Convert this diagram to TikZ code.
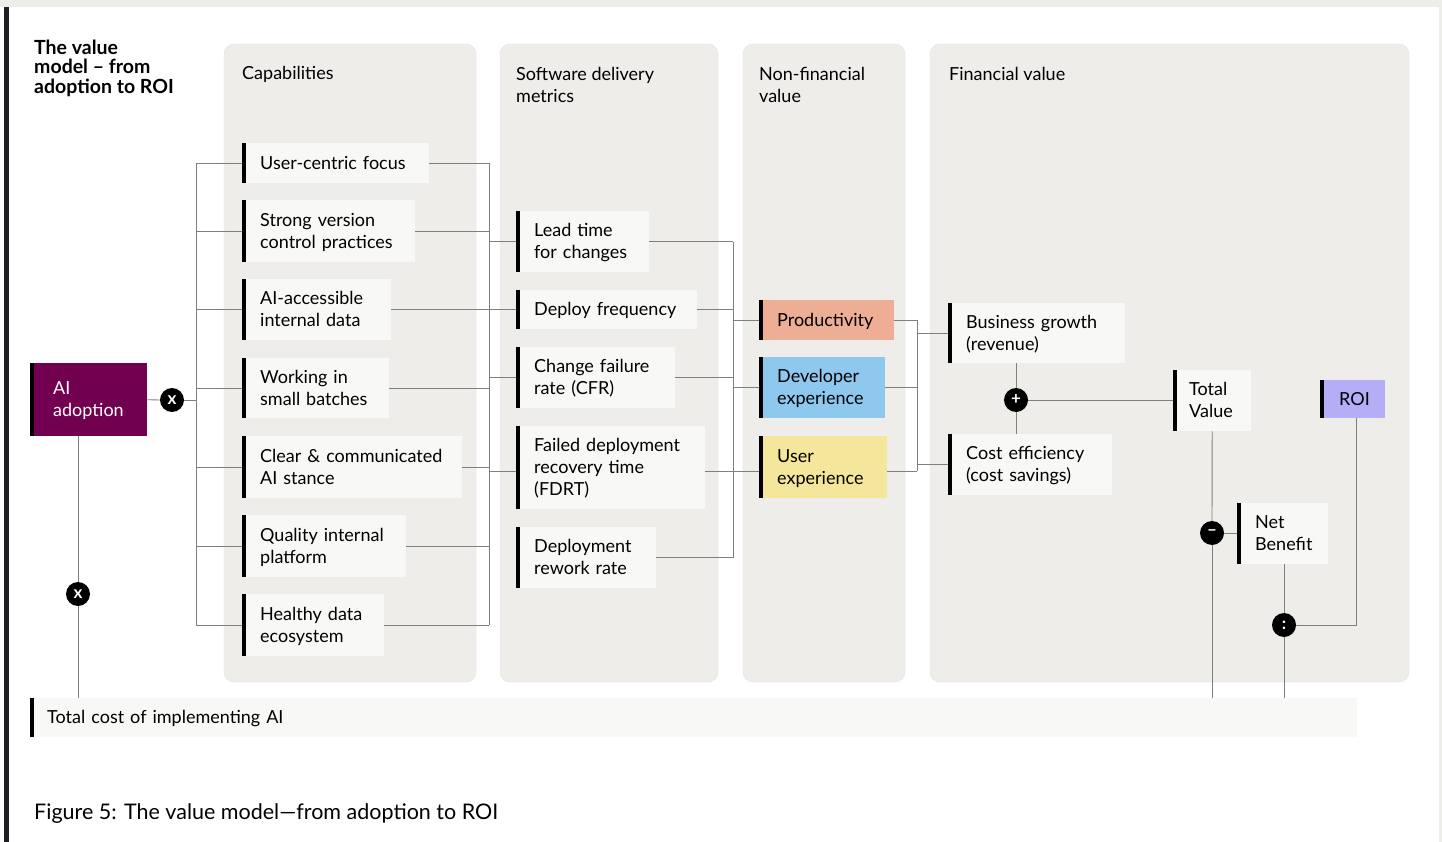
\documentclass[tikz,border=0pt]{standalone}
\usepackage{fontspec}
\setmainfont{Lato}
\definecolor{panel}{HTML}{EEEDE9}
\definecolor{cardbg}{HTML}{F8F8F6}
\definecolor{linegray}{HTML}{7F7F7F}
\definecolor{topgray}{HTML}{EDEDE9}
\definecolor{darkbar}{HTML}{1F1F23}
\definecolor{aipurple}{HTML}{710050}
\definecolor{salmon}{HTML}{EEAE95}
\definecolor{skyblue}{HTML}{8FC8EE}
\definecolor{softyellow}{HTML}{F4E69A}
\definecolor{lavender}{HTML}{B4AEF7}
\newcommand\bodyfont{\fontsize{18}{22}\selectfont}
\tikzset{
  conn/.style={draw=linegray, line width=0.9pt},
  lpad/.style={execute at begin node={\leftskip=#1\relax\rule{0pt}{17pt}},
    execute at end node={\rule[-5pt]{0pt}{5pt}}},
  card/.style={rectangle, fill=cardbg, anchor=north west, inner xsep=0pt, inner ysep=0pt,
    align=left, font=\bodyfont, lpad=18pt,
    path picture={\fill[black] (path picture bounding box.north west) rectangle ([xshift=3.5pt]path picture bounding box.south west);}},
  hdr/.style={anchor=west, align=left, font=\bodyfont, inner sep=0pt},
  opnode/.style={circle, fill=black, text=white, minimum size=24pt, inner sep=0pt, font=\fontsize{17}{17}\selectfont\bfseries},
  panelbox/.style={fill=panel, draw=panel!96!black, line width=0.4pt, rounded corners=10pt}
}
\begin{document}
\begin{tikzpicture}[x=1pt,y=-1pt]
\useasboundingbox (0,0) rectangle (1442,842);
\fill[white] (0,0) rectangle (1442,842);
% frame
\fill[topgray] (0,0) rectangle (1442,7);
\fill[darkbar] (4,7) rectangle (9,842);
\fill[topgray] (1439,7) rectangle (1442,842);
% panels
\path[panelbox] (224,44) rectangle (476,682);
\path[panelbox] (500,44) rectangle (718,682);
\path[panelbox] (743,44) rectangle (905,682);
\path[panelbox] (930,44) rectangle (1409,682);
% title and headers
\node[hdr, font=\fontsize{19.5}{19.5}\selectfont\bfseries] (title) at (34,68) {The value\\model -- from\\adoption to ROI};
\node[hdr] (h1) at (242,74) {Capabilities};
\node[hdr] (h2) at (516,85) {Software delivery\\metrics};
\node[hdr] (h3) at (759,85) {Non-financial\\value};
\node[hdr] (h4) at (949,74) {Financial value};
% AI adoption
\node[card, fill=aipurple, text=white, text width=117pt, minimum height=73pt, lpad=23pt] (ai) at (30,363) {AI\\adoption};
% capabilities
\node[card, text width=187pt, minimum height=40pt] (c1) at (242,143) {User-centric focus};
\node[card, text width=173pt, minimum height=62pt] (c2) at (242,200) {Strong version\\control practices};
\node[card, text width=149pt, minimum height=61pt] (c3) at (242,279) {AI-accessible\\internal data};
\node[card, text width=147pt, minimum height=60pt] (c4) at (242,358) {Working in\\small batches};
\node[card, text width=220pt, minimum height=62pt] (c5) at (242,436) {Clear \& communicated\\AI stance};
\node[card, text width=164pt, minimum height=62pt] (c6) at (242,515) {Quality internal\\platform};
\node[card, text width=142pt, minimum height=62pt] (c7) at (242,594) {Healthy data\\ecosystem};
% metrics
\node[card, text width=133pt, minimum height=61pt] (m1) at (516,211) {Lead time\\for changes};
\node[card, text width=181pt, minimum height=39pt] (m2) at (516,290) {Deploy frequency};
\node[card, text width=159pt, minimum height=61pt] (m3) at (516,347) {Change failure\\rate (CFR)};
\node[card, text width=189pt, minimum height=83pt] (m4) at (516,426) {Failed deployment\\recovery time\\(FDRT)};
\node[card, text width=140pt, minimum height=61pt] (m5) at (516,527) {Deployment\\rework rate};
% non-financial
\node[card, fill=salmon, text width=135pt, minimum height=40pt] (n1) at (759,300) {Productivity};
\node[card, fill=skyblue, text width=126pt, minimum height=61pt] (n2) at (759,357) {Developer\\experience};
\node[card, fill=softyellow, text width=128pt, minimum height=62pt] (n3) at (759,436) {User\\experience};
% financial
\node[card, text width=177pt, minimum height=60pt] (f1) at (948,303) {Business growth\\(revenue)};
\node[card, text width=164pt, minimum height=61pt] (f2) at (948,434) {Cost efficiency\\(cost savings)};
\node[card, text width=78pt, minimum height=61pt, lpad=16pt] (tv) at (1173,370) {Total\\Value};
\node[card, fill=lavender, text width=65pt, minimum height=38pt, lpad=19pt] (roi) at (1320,380) {ROI};
\node[card, text width=91pt, minimum height=61pt] (nb) at (1237,503) {Net\\Benefit};
% cost
\node[card, text width=1327pt, minimum height=39pt, lpad=17pt] (cost) at (30,698) {Total cost of implementing AI};
% operators
\node[opnode] (x1) at (172,400) {x};
\node[opnode] (x2) at (78,594) {x};
\node[opnode] (plus) at (1016,400) {+};
\node[opnode] (minus) at (1212,533) {--};
\node[opnode] (div) at (1284,625) {:};
% caption
\node[hdr, font=\fontsize{21.5}{25}\selectfont] (cap) at (34,814) {Figure 5: The value model---from adoption to ROI};
% bus coordinates
\coordinate (bl) at (196,400);
\coordinate (br) at (489,400);
\coordinate (bm) at (733,400);
\coordinate (bn) at (917,400);
\coordinate (m4w) at ([yshift=-3.5pt]m4.west);
\coordinate (m4e) at ([yshift=-3.5pt]m4.east);
\coordinate (n3w) at ([yshift=-4pt]n3.west);
\coordinate (n3e) at ([yshift=-4pt]n3.east);
\coordinate (roiq) at ([xshift=4pt]roi.south);
% connectors
\draw[conn] (ai.east) -- (x1.west);
\draw[conn] (x1.east) -- (bl);
\draw[conn] (ai.south -| x2) -- (x2.north);
\draw[conn] (x2.south) -- (x2 |- cost.north);
\draw[conn] (c1.west -| bl) -- (c7.west -| bl);
\foreach \n in {c1,c2,c3,c4,c5,c6,c7} {
  \draw[conn] (\n.west -| bl) -- (\n.west);
  \draw[conn] (\n.east) -- (\n.east -| br);
}
\draw[conn] (c1.east -| br) -- (c7.east -| br);
\foreach \n in {m1,m2,m3} \draw[conn] (\n.west -| br) -- (\n.west);
\draw[conn] (m4w -| br) -- (m4w);
\foreach \n in {m1,m2,m3,m5} \draw[conn] (\n.east) -- (\n.east -| bm);
\draw[conn] (m4e) -- (m4e -| bm);
\draw[conn] (m1.east -| bm) -- (m5.east -| bm);
\draw[conn] (n1.west -| bm) -- (n1.west);
\draw[conn] (n2.west -| bm) -- (n2.west);
\draw[conn] (n3w -| bm) -- (n3w);
\draw[conn] (n1.east) -- (n1.east -| bn);
\draw[conn] (n2.east) -- (n2.east -| bn);
\draw[conn] (n3e) -- (n3e -| bn);
\draw[conn] (n1.east -| bn) -- (n3e -| bn);
\draw[conn] (f1.west -| bn) -- (f1.west);
\draw[conn] (f2.west -| bn) -- (f2.west);
\draw[conn] (f1.south -| plus) -- (plus.north);
\draw[conn] (plus.south) -- (f2.north -| plus);
\draw[conn] (plus.east) -- (plus -| tv.west);
\draw[conn] (tv.south) -- (minus.north);
\draw[conn] (minus.south) -- (minus |- cost.north);
\draw[conn] (minus.east) -- (minus -| nb.west);
\draw[conn] (nb.south -| div) -- (div.north);
\draw[conn] (div.south) -- (div |- cost.north);
\draw[conn] (div.east) -| (roiq);
\end{tikzpicture}
\end{document}
